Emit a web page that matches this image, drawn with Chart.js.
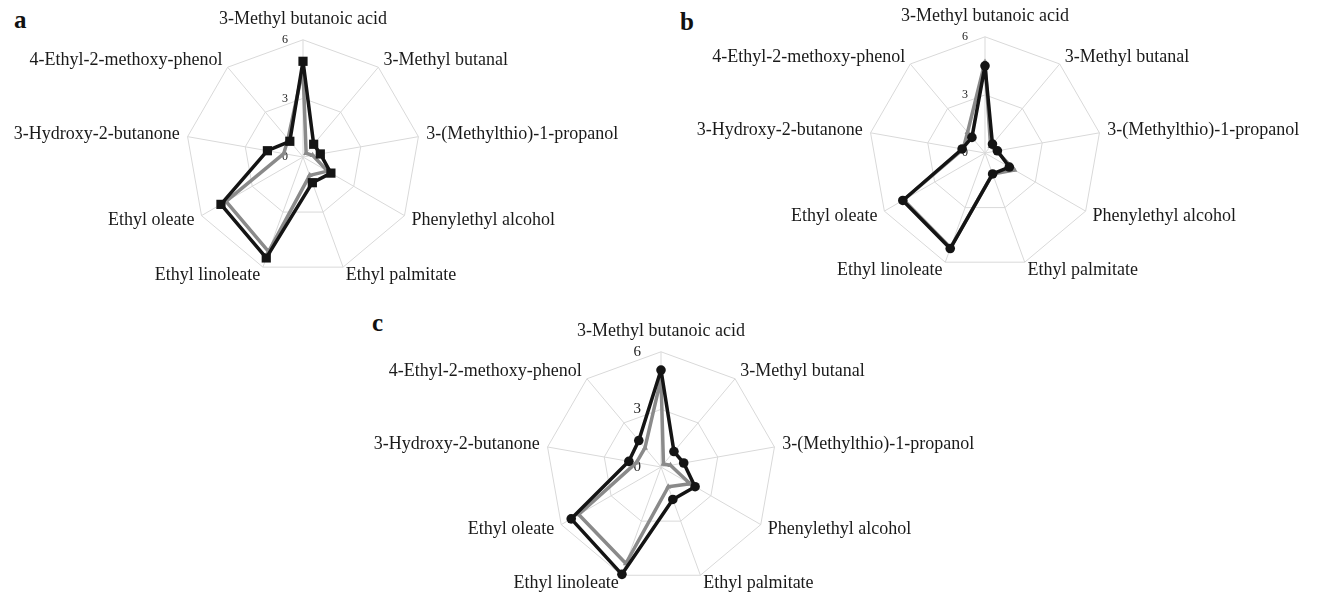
<!DOCTYPE html>
<html lang="en">
<head>
<meta charset="utf-8" />
<script src="https://cdn.jsdelivr.net/npm/chart.js@4.4.1/dist/chart.umd.min.js"></script>
<title>Radar a b c</title>
<style>
  body { margin: 0; background: #fff; width: 1320px; height: 601px; overflow: hidden; position: relative; }
  .box { position: absolute; width: 700px; }
  .tag { position: absolute; font: bold 25px "Liberation Serif", serif; color: #111; }
</style>
</head>
<body>
<div class="tag" style="left:14px; top:6px;">a</div>
<div class="tag" style="left:680px; top:8px;">b</div>
<div class="tag" style="left:372px; top:309px;">c</div>

<div class="box" style="left:-47px; top:8px; height:278px;"><canvas id="chartA"></canvas></div>
<div class="box" style="left:635px; top:5px; height:276px;"><canvas id="chartB"></canvas></div>
<div class="box" style="left:311px; top:320px; height:274px;"><canvas id="chartC"></canvas></div>

<script>
// compuestos (ejes, en sentido horario desde arriba)
const compounds = [
  "3-Methyl butanoic acid",
  "3-Methyl butanal",
  "3-(Methylthio)-1-propanol",
  "Phenylethyl alcohol",
  "Ethyl palmitate",
  "Ethyl linoleate",
  "Ethyl oleate",
  "3-Hydroxy-2-butanone",
  "4-Ethyl-2-methoxy-phenol"
];
const tickValues = [0, 3, 6];

// panel a
const aBlack = [4.9, 0.85, 0.9, 1.65, 1.4, 5.5, 4.85, 1.85, 1.05];
const aGray  = [4.5, 0.25, 0.5, 1.45, 1.0, 5.15, 4.55, 1.0, 1.2];
// panel b
const bBlack = [4.5, 0.6, 0.65, 1.45, 1.15, 5.25, 4.9, 1.2, 1.05];
const bGray  = [4.7, 0.45, 0.6, 1.75, 1.15, 5.2, 4.85, 1.15, 1.4];
// panel c
const cBlack = [5.05, 1.05, 1.2, 2.05, 1.8, 5.95, 5.4, 1.7, 1.8];
const cGray  = [4.6, 0.2, 0.5, 1.75, 1.1, 5.35, 4.95, 1.3, 1.3];

function radar(id, black, gray, marker, markerSize, tickSize, tickGap) {
  // numeros de la escala, a la izquierda del eje vertical
  const tickText = {
    id: "tickText",
    beforeDatasetsDraw(chart) {
      const s = chart.scales.r;
      const ctx = chart.ctx;
      ctx.save();
      ctx.font = tickSize + 'px "Liberation Serif"';
      ctx.fillStyle = "#222";
      ctx.textAlign = "right";
      ctx.textBaseline = "middle";
      tickValues.forEach(v => {
        ctx.fillText(String(v), s.xCenter - tickGap, s.yCenter - s.getDistanceFromCenterForValue(v));
      });
      ctx.restore();
    }
  };
  new Chart(document.getElementById(id), {
    type: "radar",
    data: {
      labels: compounds,
      datasets: [
        {
          data: black,
          borderColor: "#141414",
          backgroundColor: "#141414",
          borderWidth: 3.5,
          borderJoinStyle: "round",
          pointStyle: marker,
          pointRadius: markerSize,
          pointBackgroundColor: "#141414",
          pointBorderWidth: 0,
          fill: false
        },
        {
          data: gray,
          borderColor: "#8a8a8a",
          backgroundColor: "#8a8a8a",
          borderWidth: 3.5,
          borderJoinStyle: "round",
          pointStyle: "triangle",
          pointRadius: 3.5,
          pointBackgroundColor: "#8a8a8a",
          pointBorderWidth: 0,
          fill: false
        }
      ]
    },
    options: {
      responsive: true,
      maintainAspectRatio: false,
      animation: false,
      plugins: { legend: { display: false }, tooltip: { enabled: false } },
      scales: {
        r: {
          min: 0,
          max: 6,
          beginAtZero: true,
          ticks: { stepSize: 3, display: false },
          grid: { color: "#d9d9d9", lineWidth: 1 },
          angleLines: { color: "#d9d9d9", lineWidth: 1 },
          pointLabels: {
            color: "#1a1a1a",
            font: { family: '"Liberation Serif"', size: 18, lineHeight: 0.1 },
            padding: ctx => ctx.index === 0 ? 20 : 8
          }
        }
      }
    },
    plugins: [tickText]
  });
}

radar("chartA", aBlack, aGray, "rect", 6.5, 12, 15);
radar("chartB", bBlack, bGray, "circle", 4.8, 12, 17);
radar("chartC", cBlack, cGray, "circle", 4.8, 15, 20);
</script>
</body>
</html>
